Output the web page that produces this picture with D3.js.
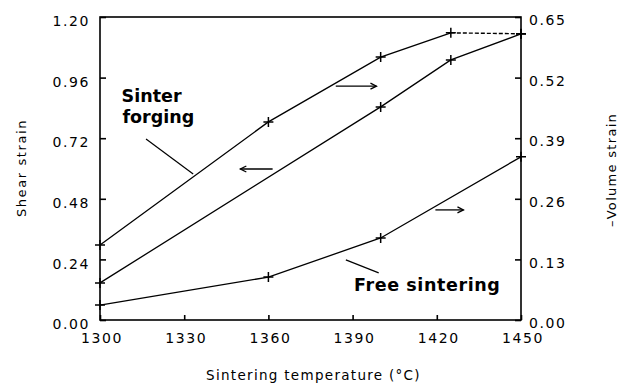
<!DOCTYPE html>
<html>
<head>
<meta charset="utf-8">
<script src="https://cdn.jsdelivr.net/npm/d3@7"></script>
<style>
  html, body { margin: 0; padding: 0; background: #fff; }
  svg { display: block; }
  text { font-family: "DejaVu Sans", sans-serif; fill: #000; }
</style>
</head>
<body>
<svg id="chart" width="619" height="388"></svg>
<script>
// Sintering temperature ticks (°C) and strain ticks for both axes
const xTicks = [1300, 1330, 1360, 1390, 1420, 1450];
const shearTicks = [0.00, 0.24, 0.48, 0.72, 0.96, 1.20];
const volumeTicks = [0.00, 0.13, 0.26, 0.39, 0.52, 0.65];

// Sinter forging, volume strain (right axis)
const forgingVolumeTemps = [1300, 1360, 1400, 1425, 1450];
const forgingVolumeValues = [0.161, 0.425, 0.564, 0.616, 0.614];

// Sinter forging, shear strain (left axis)
const forgingShearTemps = [1300, 1400, 1425, 1450];
const forgingShearValues = [0.147, 0.844, 1.030, 1.133];

// Free sintering, volume strain (right axis)
const freeVolumeTemps = [1300, 1360, 1400, 1450];
const freeVolumeValues = [0.032, 0.092, 0.176, 0.350];

const svg = d3.select("#chart");
const plotLeft = 100, plotRight = 521, plotTop = 17, plotBottom = 320;

const x = d3.scaleLinear().domain([1300, 1450]).range([plotLeft, plotRight]);
const yL = d3.scaleLinear().domain([0, 1.2]).range([plotBottom, plotTop]);
const yR = d3.scaleLinear().domain([0, 0.65]).range([plotBottom, plotTop]);

// Frame
svg.append("rect")
  .attr("x", plotLeft).attr("y", plotTop)
  .attr("width", plotRight - plotLeft).attr("height", plotBottom - plotTop)
  .attr("fill", "none").attr("stroke", "#000").attr("stroke-width", 1.6);

const tickFont = { size: "14px", ls: "1.6px" };

// Bottom axis
const xAxis = svg.append("g").attr("transform", `translate(0,${plotBottom})`)
  .call(d3.axisBottom(x).tickValues(xTicks).tickFormat(d3.format("d"))
    .tickSizeInner(-5).tickSizeOuter(0).tickPadding(13));
// Left axis
const yAxisL = svg.append("g").attr("transform", `translate(${plotLeft},0)`)
  .call(d3.axisLeft(yL).tickValues(shearTicks).tickFormat(d3.format(".2f"))
    .tickSizeInner(-6).tickSizeOuter(0).tickPadding(10));
// Right axis
const yAxisR = svg.append("g").attr("transform", `translate(${plotRight},0)`)
  .call(d3.axisRight(yR).tickValues(volumeTicks).tickFormat(d3.format(".2f"))
    .tickSizeInner(-6).tickSizeOuter(0).tickPadding(8));

[xAxis, yAxisL, yAxisR].forEach(g => {
  g.select(".domain").remove();
  g.selectAll("line").attr("stroke", "#000").attr("stroke-width", 1.6);
  g.selectAll("text")
    .style("font-family", "'DejaVu Sans', sans-serif")
    .style("font-size", tickFont.size)
    .style("letter-spacing", tickFont.ls)
    .attr("fill", "#000");
});
xAxis.selectAll("text").attr("dx", "1.5px");
yAxisL.selectAll("text").attr("dy", "0.62em");
yAxisR.selectAll("text").attr("dy", "0.55em");

// Axis titles
svg.append("text")
  .attr("x", (plotLeft + plotRight) / 2 + 3).attr("y", 380)
  .attr("text-anchor", "middle")
  .style("font-size", "13.5px").style("letter-spacing", "1.3px")
  .text("Sintering temperature (°C)");

svg.append("text")
  .attr("transform", "translate(26,168) rotate(-90)")
  .attr("text-anchor", "middle")
  .style("font-size", "13px").style("letter-spacing", "1.6px")
  .text("Shear strain");

svg.append("text")
  .attr("transform", "translate(616,170) rotate(-90)")
  .attr("text-anchor", "middle")
  .style("font-size", "13px").style("letter-spacing", "1.3px")
  .text("\u2013Volume strain");

// Curves
const lineStyle = sel => sel.attr("fill", "none").attr("stroke", "#000")
  .attr("stroke-width", 1.3);

function series(temps, values, yScale) {
  return temps.map((t, i) => ({ t, v: values[i], y: yScale }));
}

const forgingVolume = series(forgingVolumeTemps, forgingVolumeValues, yR);
const forgingShear = series(forgingShearTemps, forgingShearValues, yL);
const freeVolume = series(freeVolumeTemps, freeVolumeValues, yR);

const line = d3.line().x(d => x(d.t)).y(d => d.y(d.v));

// Volume strain of sinter forging: solid up to 1425 °C, dashed to the end
svg.append("path").datum(forgingVolume.slice(0, 4)).attr("d", line).call(lineStyle);
svg.append("path").datum(forgingVolume.slice(3)).attr("d", line).call(lineStyle)
  .attr("stroke-dasharray", "4,2").attr("stroke-width", 1.4);
svg.append("path").datum(forgingShear).attr("d", line).call(lineStyle);
svg.append("path").datum(freeVolume).attr("d", line).call(lineStyle);

// Plus markers at the measured temperatures
const allPoints = forgingVolume.concat(forgingShear, freeVolume);
svg.append("g").selectAll("path.m").data(allPoints).join("path")
  .attr("class", "m")
  .attr("transform", d => `translate(${x(d.t)},${d.y(d.v)})`)
  .attr("d", "M-5,0H5M0,-5V5")
  .attr("stroke", "#000").attr("stroke-width", 1.5);

// Direction arrows pointing to the axis each curve belongs to
const arrows = [
  { from: [1361.5, 0.598], to: [1350.0, 0.598], axis: yL },
  { from: [1384.0, 0.926], to: [1398.5, 0.926], axis: yL },
  { from: [1419.5, 0.436], to: [1429.5, 0.436], axis: yL }
];
arrows.forEach(a => {
  const x1 = x(a.from[0]), x2 = x(a.to[0]), yy = a.axis(a.from[1]);
  const dir = Math.sign(x2 - x1);
  svg.append("line").attr("x1", x1).attr("y1", yy).attr("x2", x2).attr("y2", yy)
    .attr("stroke", "#000").attr("stroke-width", 1.3);
  svg.append("path")
    .attr("d", `M${x2 - dir * 6},${yy - 3}L${x2},${yy}L${x2 - dir * 6},${yy + 3}`)
    .attr("fill", "none").attr("stroke", "#000").attr("stroke-width", 1.3);
});

// Curve labels with leader lines
const labelStyle = sel => sel.style("font-weight", "bold")
  .style("font-family", "'DejaVu Sans', sans-serif");

svg.append("text").attr("x", x(1307.7)).attr("y", yL(0.865))
  .style("font-size", "17.5px").call(labelStyle).text("Sinter");
svg.append("text").attr("x", x(1308.0)).attr("y", yL(0.78))
  .style("font-size", "17.5px").call(labelStyle).text("forging");
svg.append("line")
  .attr("x1", x(1316.4)).attr("y1", yL(0.717))
  .attr("x2", x(1333.2)).attr("y2", yL(0.578))
  .attr("stroke", "#000").attr("stroke-width", 1.2);

svg.append("text").attr("x", x(1390.5)).attr("y", yR(0.062))
  .style("font-size", "17.5px").style("letter-spacing", "0.6px")
  .call(labelStyle).text("Free sintering");
svg.append("line")
  .attr("x1", x(1387.6)).attr("y1", yR(0.129))
  .attr("x2", x(1399.3)).attr("y2", yR(0.101))
  .attr("stroke", "#000").attr("stroke-width", 1.2);
</script>
</body>
</html>
